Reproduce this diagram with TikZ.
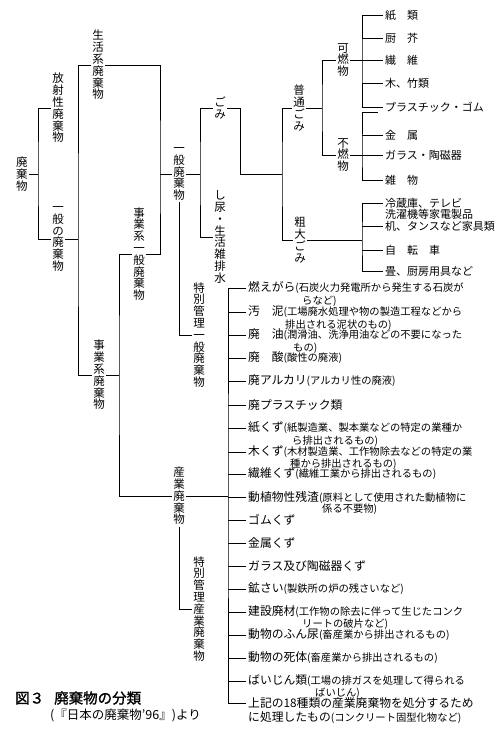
\documentclass[tikz,border=0pt]{standalone}
\usepackage{fontspec}
\setmainfont{Noto Sans CJK JP}
\newfontfamily\titlefont{Noto Sans CJK JP}[FakeBold=1.3]
\newcommand\sm[1]{{\fontsize{10.3}{12}\selectfont#1}}
\tikzset{
  vlab/.style={align=center, font=\fontsize{11.5}{11.8}\selectfont, inner sep=1.5pt},
  hitem/.style={anchor=west, inner sep=2pt, font=\fontsize{11}{13}\selectfont},
  pitem/.style={anchor=west, inner sep=2pt, font=\fontsize{11.8}{14}\selectfont},
  cont/.style={anchor=west, inner sep=0pt, font=\fontsize{11.8}{14}\selectfont},
  conn/.style={line width=0.6pt}
}
\begin{document}
\begin{tikzpicture}[x=1pt,y=-1pt]
\useasboundingbox[fill=white] (0,0) rectangle (500,738);
% vertical labels
\node[vlab] (root) at (22,174) {廃\\棄\\物};
\node[vlab] (rad) at (58,108) {放\\射\\性\\廃\\棄\\物};
\node[vlab] (gen) at (58,239) {一\\般\\の\\廃\\棄\\物};
\node[vlab] (life) at (98,65) {生\\活\\系\\廃\\棄\\物};
\node[vlab] (biz) at (99,375) {事\\業\\系\\廃\\棄\\物};
\node[vlab] (bizgen) at (139,254) {事\\業\\系\\一\\般\\廃\\棄\\物};
\node[vlab] (ippan) at (179,174) {一\\般\\廃\\棄\\物};
\node[vlab] (ind) at (179,496) {産\\業\\廃\\棄\\物};
\node[vlab] (tokuippan) at (199,335) {特\\別\\管\\理\\一\\般\\廃\\棄\\物};
\node[vlab] (tokusan) at (199,609) {特\\別\\管\\理\\産\\業\\廃\\棄\\物};
\node[vlab] (gomi) at (220,108) {ご\\み};
\node[vlab] (shinyo) at (220,237) {し\\尿\\・\\生\\活\\雑\\排\\水};
\node[vlab] (futsu) at (299,108) {普\\通\\ご\\み};
\node[vlab] (sodai) at (300,240) {粗\\大\\ご\\み};
\node[vlab] (kanen) at (343,60) {可\\燃\\物};
\node[vlab] (funen) at (343,155) {不\\燃\\物};
% household items
\node[hitem] (h1) at (383,15) {紙　類};
\node[hitem] (h2) at (383,38) {厨　芥};
\node[hitem] (h3) at (383,60) {繊　維};
\node[hitem] (h4) at (383,83) {木、竹類};
\node[hitem] (h5) at (383,107) {プラスチック・ゴム};
\node[hitem] (h6) at (383,135) {金　属};
\node[hitem] (h7) at (383,155) {ガラス・陶磁器};
\node[hitem] (h8) at (383,180) {雑　物};
\node[hitem] (h9) at (383,203) {冷蔵庫、テレビ};
\node[hitem] (h10) at (383,214) {洗濯機等家電製品};
\node[hitem] (h11) at (383,226) {机、タンスなど家具類};
\node[hitem] (h12) at (383,250) {自　転　車};
\node[hitem] (h13) at (383,271) {畳、厨房用具など};
% industrial items
\node[pitem] (p1) at (246,288) {燃えがら\sm{(石炭火力発電所から発生する石炭が}};
\node[cont] (p1b) at (302,301) {\sm{らなど)}};
\node[pitem] (p2) at (246,312) {汚　泥\sm{(工場廃水処理や物の製造工程などから}};
\node[cont] (p2b) at (285,325) {\sm{排出される泥状のもの)}};
\node[pitem] (p3) at (246,335) {廃　油\sm{(潤滑油、洗浄用油などの不要になった}};
\node[cont] (p3b) at (293,348) {\sm{もの)}};
\node[pitem] (p4) at (246,358) {廃　酸\sm{(酸性の廃液)}};
\node[pitem] (p5) at (246,381) {廃アルカリ\sm{(アルカリ性の廃液)}};
\node[pitem] (p6) at (246,405) {廃プラスチック類};
\node[pitem] (p7) at (246,428) {紙くず\sm{(紙製造業、製本業などの特定の業種か}};
\node[cont] (p7b) at (292,441) {\sm{ら排出されるもの)}};
\node[pitem] (p8) at (246,452) {木くず\sm{(木材製造業、工作物除去などの特定の業}};
\node[cont] (p8b) at (290,464) {\sm{種から排出されるもの)}};
\node[pitem] (p9) at (246,474) {繊維くず\sm{(繊維工業から排出されるもの)}};
\node[pitem] (p10) at (246,497) {動植物性残渣\sm{(原料として使用された動植物に}};
\node[cont] (p10b) at (322,509) {\sm{係る不要物)}};
\node[pitem] (p11) at (246,520) {ゴムくず};
\node[pitem] (p12) at (246,543) {金属くず};
\node[pitem] (p13) at (246,566) {ガラス及び陶磁器くず};
\node[pitem] (p14) at (246,589) {鉱さい\sm{(製鉄所の炉の残さいなど)}};
\node[pitem] (p15) at (246,612) {建設廃材\sm{(工作物の除去に伴って生じたコンク}};
\node[cont] (p15b) at (302,624) {\sm{リートの破片など)}};
\node[pitem] (p16) at (246,635) {動物のふん尿\sm{(畜産業から排出されるもの)}};
\node[pitem] (p17) at (246,658) {動物の死体\sm{(畜産業から排出されるもの)}};
\node[pitem] (p18) at (246,681) {ばいじん類\sm{(工場の排ガスを処理して得られる}};
\node[cont] (p18b) at (315,693) {\sm{ばいじん)}};
\node[pitem] (p19) at (246,703) {上記の18種類の産業廃棄物を処分するため};
\node[cont] (p19b) at (248,718) {に処理したもの\sm{(コンクリート固型化物など)}};
% title
\node[anchor=west, inner sep=0pt, font=\titlefont\fontsize{14.5}{16}\selectfont] (title) at (15,698) {図３\hspace{10pt}廃棄物の分類};
\node[anchor=west, inner sep=0pt, font=\fontsize{12.5}{14}\selectfont] (src) at (50,715) {(『日本の廃棄物'96』)より};
% joints
\coordinate (b0) at (38,174);
\coordinate (b1) at (78,239);
\coordinate (b2) at (160,174);
\coordinate (b3) at (119,375);
\coordinate (b4) at (200,174);
\coordinate (c1) at (240,174);
\coordinate (b5) at (282,174);
\coordinate (b6) at (322,108);
\coordinate (b7) at (362,60);
\coordinate (b8) at (362,155);
\coordinate (stub) at (378,112);
\coordinate (b9) at (362,240);
\coordinate (b10) at (228,496);
% connectors
\begin{scope}[conn]
\draw (root.east) -- (b0);
\draw (rad.west) -| (b0) |- (gen.west);
\draw (gen.east) -- (b1);
\draw (life.west) -| (b1) |- (biz.west);
\draw (life.east) -| (b2) |- (bizgen.east);
\draw (b2) -- (ippan.west);
\draw (biz.east) -- (b3);
\draw (bizgen.west) -| (b3) |- (ind.west);
\draw (ippan.east) -- (b4);
\draw (gomi.west) -| (b4) |- (shinyo.west);
\draw (ippan.south) |- (tokuippan.west);
\draw (gomi.east) -| (c1) -- (b5);
\draw (futsu.west) -| (b5) |- (sodai.west);
\draw (futsu.east) -- (b6);
\draw (kanen.west) -| (b6) |- (funen.west);
\draw (kanen.east) -- (b7);
\draw (h1.west) -| (b7) |- (h5.west);
\foreach \n in {h2,h3,h4} \draw (b7 |- \n.west) -- (\n.west);
\draw (funen.east) -- (b8);
\draw (stub) -| (b8) |- (h8.west);
\foreach \n in {h6,h7} \draw (b8 |- \n.west) -- (\n.west);
\draw (sodai.east) -- (b9);
\draw (h9.west) -| (b9) |- (h13.west);
\foreach \n in {h11,h12} \draw (b9 |- \n.west) -- (\n.west);
\draw (ind.east) -- (b10);
\draw (p1.west) -| (b10) |- (p19.west);
\foreach \n in {p2,p3,p4,p5,p6,p7,p8,p9,p10,p11,p12,p13,p14,p15,p16,p17,p18}
  \draw (b10 |- \n.west) -- (\n.west);
\draw (ind.south) |- (tokusan.west);
\end{scope}
\end{tikzpicture}
\end{document}
